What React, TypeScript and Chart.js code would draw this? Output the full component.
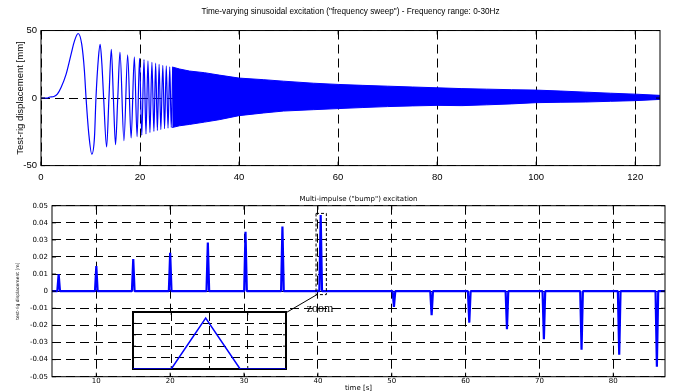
import React, { useEffect, useRef } from 'react';
import { Chart, registerables } from 'chart.js';

Chart.register(...registerables);

// ---------- Top chart: frequency sweep ----------
const sweepTitle = 'Time-varying sinusoidal excitation ("frequency sweep") - Frequency range: 0-30Hz';
const sweepYTitle = 'Test-rig displacement [mm]';
const sweepXTicks = [0, 20, 40, 60, 80, 100, 120];
const sweepYTicks = [-50, 0, 50];

// visible individual oscillations (extrema and zero crossings)
const sweepTimes = [
  0, 1.2, 1.8, 2.6, 3.3, 4.05, 5.06, 6.07, 6.75, 7.5, 8.23, 8.77, 9.1, 9.65, 10.26, 10.8, 11.1,
  11.6, 11.94, 12.3, 12.65, 13.25, 13.72, 14.2, 14.62, 15.05, 15.5, 15.95, 16.75, 17.5, 18.2,
  18.85, 19.4, 19.9, 20.35, 20.8, 21.2, 21.6, 22.0, 22.4, 22.8, 23.15, 23.5, 23.85, 24.2, 24.6,
  24.95, 25.3, 25.65, 26.0, 26.3, 26.6,
];
const sweepValues = [
  0, 0, 0.8, 1.2, 3.0, 7.9, 17.6, 32.4, 42.2, 47.8, 39.7, 20.1, 0, -26.5, -41.5, -28.9, 0,
  30, 39.8, 25, 0, -36.2, 0, 36, 0, -34.5, 0, 34, -31.5, 32, -29.5,
  30.5, -28.5, 29.5, -27.5, 28.5, -26.5, 27.5, -25.5, 26.5, -24.7, 25.8, -24, 25, -23.3, 24.3,
  -22.7, 23.8, -22.2, 23.2, -21.8, 22.8,
];

// dense part: envelope of the oscillation band
const envTimes = [26.5, 28, 30, 33, 36, 40, 45, 49, 55, 60, 65, 70, 75, 80, 85, 90, 95, 100, 105, 110, 115, 120, 125];
const envUpper = [23, 21.5, 20, 18.8, 17, 14.8, 13.6, 12.5, 11, 10.1, 9.4, 8.8, 8.2, 7.6, 7, 6.6, 6.2, 5.9, 5.2, 4.4, 3.6, 2.9, 2.0];
const envLower = [-21.8, -20.5, -19.5, -17.8, -16, -13, -11, -9.6, -8.6, -7.8, -7, -6.3, -5.8, -5.4, -5.6, -5, -4.3, -3.4, -3.1, -2.9, -2.4, -1.9, -1.0];

// ---------- Bottom chart: multi-impulse ("bump") ----------
const bumpTitle = 'Multi-impulse ("bump") excitation';
const bumpXTitle = 'time [s]';
const bumpYTitle = 'test-rig displacement [m]';
const bumpXTicks = [10, 20, 30, 40, 50, 60, 70, 80];
const bumpYTicks = [-0.05, -0.04, -0.03, -0.02, -0.01, 0, 0.01, 0.02, 0.03, 0.04, 0.05];
const bumpTimes = [4.9, 10.0, 15.0, 20.0, 25.1, 30.2, 35.2, 40.38, 50.3, 55.4, 60.5, 65.6, 70.6, 75.7, 80.8, 85.9];
const bumpHeights = [0.01, 0.0147, 0.0188, 0.0225, 0.0285, 0.0348, 0.0378, 0.0446, -0.0092, -0.014, -0.0184, -0.0223, -0.0281, -0.0342, -0.0371, -0.0442];
const bumpHalfWidth = 0.18;
const bumpRange = [4, 87];

// inset (zoom on the bump near 40 s)
const insetXTicks = [40.0, 40.2, 40.4, 40.6, 40.8];
const insetYTicks = [0, 0.01, 0.02, 0.03, 0.04, 0.05];

// zoom annotation (in data coordinates of the bump chart)
const zoomBox = { x0: 39.75, x1: 41.15, y0: -0.002, y1: 0.0455 };
const zoomLink = { x0: 35.72, y0: -0.0125, x1: 39.95, y1: -0.0018 };
const zoomLabel = { x: 40.3, y: -0.0102, text: 'zoom' };

const BLUE = '#0000ff';
const NARROW = "'Liberation Sans Narrow', 'Arial Narrow', 'Liberation Sans', Arial, sans-serif";
const WIDE = "'DejaVu Sans', sans-serif";

function pts(xs: number[], ys: number[]) {
  return xs.map((x, i) => ({ x, y: ys[i] }));
}

function bumpSeries() {
  const out = [{ x: bumpRange[0], y: 0 }];
  bumpTimes.forEach((t, i) => {
    out.push({ x: t - bumpHalfWidth, y: 0 }, { x: t, y: bumpHeights[i] }, { x: t + bumpHalfWidth, y: 0 });
  });
  out.push({ x: bumpRange[1], y: 0 });
  return out;
}

function drawFrame(chart: any, opts: any) {
  const { ctx, chartArea: a, scales } = chart;
  ctx.save();
  ctx.strokeStyle = '#000';
  ctx.setLineDash([]);
  ctx.lineWidth = opts.width || 1;
  ctx.strokeRect(a.left, a.top, a.right - a.left, a.bottom - a.top);
  const tl = opts.tick || 0;
  if (tl > 0) {
    ctx.lineWidth = 1;
    ctx.beginPath();
    scales.x.ticks.forEach((t: any) => {
      const px = scales.x.getPixelForValue(t.value);
      ctx.moveTo(px, a.bottom); ctx.lineTo(px, a.bottom - tl);
      ctx.moveTo(px, a.top); ctx.lineTo(px, a.top + tl);
    });
    scales.y.ticks.forEach((t: any) => {
      const py = scales.y.getPixelForValue(t.value);
      ctx.moveTo(a.left, py); ctx.lineTo(a.left + tl, py);
      ctx.moveTo(a.right, py); ctx.lineTo(a.right - tl, py);
    });
    ctx.stroke();
  }
  ctx.restore();
}

const framePlugin = {
  id: 'frame',
  beforeDraw(chart: any, _args: any, opts: any) {
    if (opts.background) {
      const { ctx, chartArea: a } = chart;
      ctx.save();
      ctx.fillStyle = opts.background;
      ctx.fillRect(a.left, a.top, a.right - a.left, a.bottom - a.top);
      ctx.restore();
    }
  },
  beforeDatasetsDraw(chart: any, _args: any, opts: any) {
    if (opts.before) drawFrame(chart, opts);
  },
  afterDatasetsDraw(chart: any, _args: any, opts: any) {
    if (!opts.before) drawFrame(chart, opts);
  },
};

const zoomPlugin = {
  id: 'zoomNote',
  afterDatasetsDraw(chart: any) {
    const { ctx, scales: { x, y } } = chart;
    ctx.save();
    ctx.strokeStyle = '#000';
    ctx.lineWidth = 1;
    ctx.setLineDash([3, 2]);
    const bx0 = x.getPixelForValue(zoomBox.x0);
    const bx1 = x.getPixelForValue(zoomBox.x1);
    const by0 = y.getPixelForValue(zoomBox.y0);
    const by1 = y.getPixelForValue(zoomBox.y1);
    ctx.strokeRect(bx0, by1, bx1 - bx0, by0 - by1);
    ctx.setLineDash([]);
    ctx.beginPath();
    ctx.moveTo(x.getPixelForValue(zoomLink.x0), y.getPixelForValue(zoomLink.y0));
    ctx.lineTo(x.getPixelForValue(zoomLink.x1), y.getPixelForValue(zoomLink.y1));
    ctx.stroke();
    ctx.fillStyle = '#000';
    ctx.font = "12px 'Liberation Serif', 'DejaVu Serif', serif";
    ctx.textAlign = 'center';
    ctx.textBaseline = 'middle';
    ctx.fillText(zoomLabel.text, x.getPixelForValue(zoomLabel.x), y.getPixelForValue(zoomLabel.y));
    ctx.restore();
  },
};

const setTicks = (arr: number[]) => (s: any) => {
  s.ticks = arr.map((value) => ({ value }));
};

const gridOpts = { color: '#000', lineWidth: 1, drawTicks: false };
const borderOpts = { display: false, dash: [9, 5] };

export default function App() {
  const topRef = useRef<HTMLCanvasElement>(null);
  const botRef = useRef<HTMLCanvasElement>(null);
  const insetRef = useRef<HTMLCanvasElement>(null);

  useEffect(() => {
    const topChart = new Chart(topRef.current as HTMLCanvasElement, {
      type: 'line',
      data: {
        datasets: [
          { data: pts(sweepTimes, sweepValues), borderColor: BLUE, borderWidth: 1.2, pointRadius: 0, cubicInterpolationMode: 'monotone', fill: false } as any,
          { data: pts(envTimes, envUpper), borderColor: BLUE, borderWidth: 1, pointRadius: 0, fill: '+1', backgroundColor: BLUE },
          { data: pts(envTimes, envLower), borderColor: BLUE, borderWidth: 1, pointRadius: 0, fill: false },
        ],
      },
      options: {
        responsive: false,
        animation: false,
        events: [],
        layout: { padding: { left: 0, right: 14, top: 0, bottom: 0 } },
        plugins: {
          legend: { display: false },
          tooltip: { enabled: false },
          title: {
            display: true, text: sweepTitle, color: '#000', fullSize: false,
            font: { family: NARROW, size: 8.2, weight: 'normal' },
            padding: { top: 6.5, bottom: 14.2 },
          },
          frame: { width: 1, tick: 4 },
        } as any,
        scales: {
          x: {
            type: 'linear', min: 0, max: 125,
            afterBuildTicks: setTicks(sweepXTicks),
            afterFit: (s: any) => { s.height = 24.4; },
            ticks: { color: '#000', font: { family: NARROW, size: 9.5 }, padding: 6.5, maxRotation: 0, autoSkip: false },
            grid: gridOpts, border: borderOpts,
          },
          y: {
            type: 'linear', min: -50, max: 50,
            afterBuildTicks: setTicks(sweepYTicks),
            afterFit: (s: any) => { s.width = 41; },
            ticks: { color: '#000', font: { family: NARROW, size: 9.5 }, padding: 4, autoSkip: false },
            title: { display: true, text: sweepYTitle, color: '#000', font: { family: NARROW, size: 9.5 }, padding: { top: 14.3, bottom: 0 } },
            grid: gridOpts, border: borderOpts,
          },
        },
      } as any,
      plugins: [framePlugin],
    });

    const botChart = new Chart(botRef.current as HTMLCanvasElement, {
      type: 'line',
      data: {
        datasets: [
          { data: bumpSeries(), borderColor: BLUE, borderWidth: 2.2, pointRadius: 0, fill: false, borderJoinStyle: 'bevel' } as any,
        ],
      },
      options: {
        responsive: false,
        animation: false,
        events: [],
        layout: { padding: { left: 0, right: 9, top: 0, bottom: 0 } },
        plugins: {
          legend: { display: false },
          tooltip: { enabled: false },
          title: {
            display: true, text: bumpTitle, color: '#000', fullSize: false,
            font: { family: WIDE, size: 7, weight: 'normal' },
            padding: { top: 4.8, bottom: 2.5 },
          },
          frame: { width: 1, tick: 4 },
        } as any,
        scales: {
          x: {
            type: 'linear', min: bumpRange[0], max: bumpRange[1],
            afterBuildTicks: setTicks(bumpXTicks),
            afterFit: (s: any) => { s.height = 15.3; },
            ticks: { color: '#000', font: { family: WIDE, size: 7 }, padding: 0.5, maxRotation: 0, autoSkip: false },
            title: { display: true, text: bumpXTitle, color: '#000', font: { family: WIDE, size: 7 }, padding: { top: 0, bottom: 0 } },
            grid: gridOpts, border: borderOpts,
          },
          y: {
            type: 'linear', min: -0.05, max: 0.05,
            afterBuildTicks: setTicks(bumpYTicks),
            afterFit: (s: any) => { s.width = 52; },
            ticks: {
              color: '#000', font: { family: WIDE, size: 7 }, padding: 4, autoSkip: false,
              callback: (v: any) => (Math.abs(v) < 1e-9 ? '0' : Number(v).toFixed(2)),
            },
            title: { display: true, text: bumpYTitle, color: '#000', font: { family: WIDE, size: 4.5 }, padding: { top: 15.3, bottom: 0 } },
            grid: gridOpts, border: borderOpts,
          },
        },
      } as any,
      plugins: [framePlugin, zoomPlugin],
    });

    const insetChart = new Chart(insetRef.current as HTMLCanvasElement, {
      type: 'line',
      data: {
        datasets: [
          { data: bumpSeries(), borderColor: BLUE, borderWidth: 1.5, pointRadius: 0, fill: false } as any,
        ],
      },
      options: {
        responsive: false,
        animation: false,
        events: [],
        layout: { padding: 2 },
        plugins: {
          legend: { display: false },
          tooltip: { enabled: false },
          frame: { width: 2, before: true, background: '#fff', tick: 3 },
        } as any,
        scales: {
          x: {
            type: 'linear', min: insetXTicks[0], max: insetXTicks[insetXTicks.length - 1],
            afterBuildTicks: setTicks(insetXTicks),
            afterFit: (s: any) => { s.height = 0; },
            ticks: { display: false },
            grid: gridOpts, border: borderOpts,
          },
          y: {
            type: 'linear', min: insetYTicks[0], max: insetYTicks[insetYTicks.length - 1],
            afterBuildTicks: setTicks(insetYTicks),
            afterFit: (s: any) => { s.width = 0; },
            ticks: { display: false },
            grid: gridOpts, border: borderOpts,
          },
        },
      } as any,
      plugins: [framePlugin],
    });

    return () => {
      topChart.destroy();
      botChart.destroy();
      insetChart.destroy();
    };
  }, []);

  return (
    <div style={{ position: 'fixed', left: 0, top: 0, width: 674, height: 392, background: '#fff', overflow: 'hidden' }}>
      <canvas ref={topRef} width={674} height={190} style={{ position: 'absolute', left: 0, top: 0, width: 674, height: 190 }} />
      <canvas ref={botRef} width={674} height={202} style={{ position: 'absolute', left: 0, top: 190, width: 674, height: 202 }} />
      <canvas ref={insetRef} width={157} height={61} style={{ position: 'absolute', left: 131, top: 310, width: 157, height: 61 }} />
    </div>
  );
}
